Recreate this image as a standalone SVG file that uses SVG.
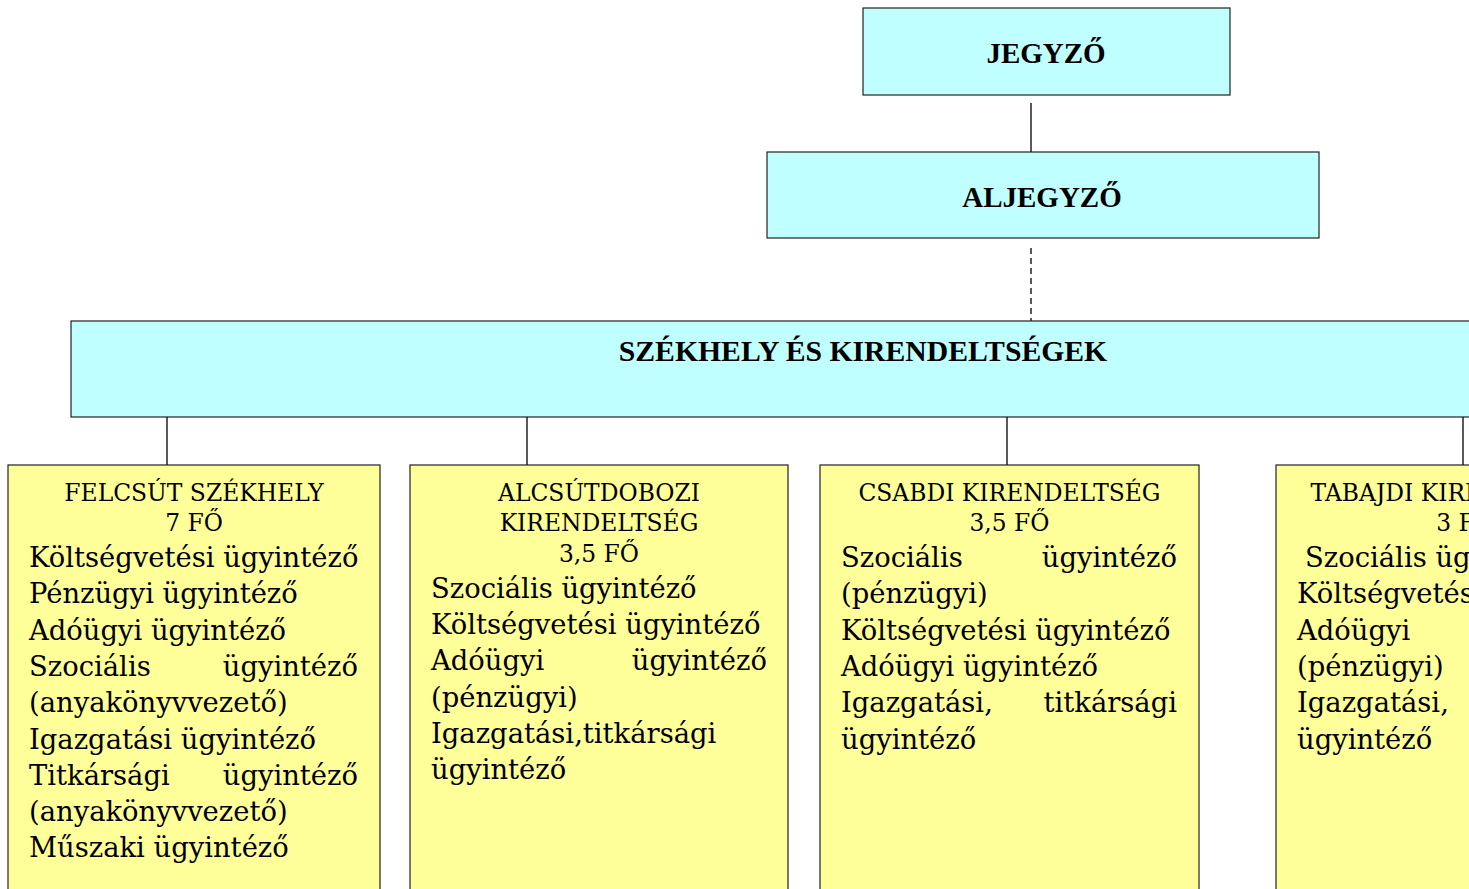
<svg xmlns="http://www.w3.org/2000/svg" width="1469" height="889" viewBox="0 0 1469 889">
<style>
.cyan{fill:#BFFFFF;stroke:#222;stroke-width:1.2}
.yel{fill:#FFFF99;stroke:#222;stroke-width:1.2}
.title{font-family:"Liberation Serif","Times New Roman",serif;font-weight:bold;fill:#000;text-anchor:middle}
.hd{font-family:"DejaVu Serif","Liberation Serif",serif;font-size:23.4px;fill:#000;text-anchor:middle}
.bd{font-family:"DejaVu Serif","Liberation Serif",serif;font-size:27.4px;fill:#000}
.r{text-anchor:end}
.ln{stroke:#000;stroke-width:1.3;fill:none}
</style>
<rect width="1469" height="889" fill="#fff"/>
<g id="connectors">
<line class="ln" x1="1031" y1="103" x2="1031" y2="152"/>
<line class="ln" x1="1031" y1="248" x2="1031" y2="321" stroke-dasharray="6,4"/>
<line class="ln" x1="167" y1="417" x2="167" y2="465"/>
<line class="ln" x1="527" y1="417" x2="527" y2="465"/>
<line class="ln" x1="1007" y1="417" x2="1007" y2="465"/>
<line class="ln" x1="1463" y1="417" x2="1463" y2="465"/>
</g>
<g id="jegyzo">
<rect class="cyan" x="863" y="8" width="367" height="87"/>
<text class="title" x="1046" y="63" font-size="29">JEGYZŐ</text>
</g>
<g id="aljegyzo">
<rect class="cyan" x="767" y="152" width="552" height="86"/>
<text class="title" x="1042" y="207" font-size="29">ALJEGYZŐ</text>
</g>
<g id="szekhely">
<rect class="cyan" x="71" y="321" width="1420" height="96" stroke-width="1.6"/>
<text class="title" x="863" y="361" font-size="29.7">SZÉKHELY ÉS KIRENDELTSÉGEK</text>
</g>
<g id="felcsut">
<rect class="yel" x="8" y="465" width="372" height="440"/>
<text class="hd" x="194" y="501">FELCSÚT SZÉKHELY</text>
<text class="hd" x="194" y="531">7 FŐ</text>
<text class="bd" x="29" y="567">Költségvetési ügyintéző</text>
<text class="bd" x="29" y="603.3">Pénzügyi ügyintéző</text>
<text class="bd" x="29" y="639.6">Adóügyi ügyintéző</text>
<text class="bd" x="29" y="675.9">Szociális</text>
<text class="bd r" x="358" y="675.9">ügyintéző</text>
<text class="bd" x="29" y="712.2">(anyakönyvvezető)</text>
<text class="bd" x="29" y="748.5">Igazgatási ügyintéző</text>
<text class="bd" x="29" y="784.8">Titkársági</text>
<text class="bd r" x="358" y="784.8">ügyintéző</text>
<text class="bd" x="29" y="821.1">(anyakönyvvezető)</text>
<text class="bd" x="29" y="857.4">Műszaki ügyintéző</text>
</g>
<g id="alcsutdoboz">
<rect class="yel" x="410" y="465" width="378" height="440"/>
<text class="hd" x="599" y="501">ALCSÚTDOBOZI</text>
<text class="hd" x="599" y="531">KIRENDELTSÉG</text>
<text class="hd" x="599" y="561.5">3,5 FŐ</text>
<text class="bd" x="431" y="597.7">Szociális ügyintéző</text>
<text class="bd" x="431" y="634">Költségvetési ügyintéző</text>
<text class="bd" x="431" y="670.3">Adóügyi</text>
<text class="bd r" x="767" y="670.3">ügyintéző</text>
<text class="bd" x="431" y="706.6">(pénzügyi)</text>
<text class="bd" x="431" y="742.9">Igazgatási,titkársági</text>
<text class="bd" x="431" y="779.2">ügyintéző</text>
</g>
<g id="csabdi">
<rect class="yel" x="820" y="465" width="379" height="440"/>
<text class="hd" x="1009.5" y="501">CSABDI KIRENDELTSÉG</text>
<text class="hd" x="1009.5" y="531">3,5 FŐ</text>
<text class="bd" x="841" y="567">Szociális</text>
<text class="bd r" x="1177" y="567">ügyintéző</text>
<text class="bd" x="841" y="603.3">(pénzügyi)</text>
<text class="bd" x="841" y="639.6">Költségvetési ügyintéző</text>
<text class="bd" x="841" y="675.9">Adóügyi ügyintéző</text>
<text class="bd" x="841" y="712.2">Igazgatási,</text>
<text class="bd r" x="1177" y="712.2">titkársági</text>
<text class="bd" x="841" y="748.5">ügyintéző</text>
</g>
<g id="tabajd">
<rect class="yel" x="1276" y="465" width="379" height="440"/>
<text class="hd" x="1465" y="501">TABAJDI KIRENDELTSÉG</text>
<text class="hd" x="1465" y="531">3 FŐ</text>
<text class="bd" x="1305" y="567">Szociális ügyintéző</text>
<text class="bd" x="1297" y="603.3">Költségvetési ügyintéző</text>
<text class="bd" x="1297" y="639.6">Adóügyi</text>
<text class="bd" x="1297" y="675.9">(pénzügyi)</text>
<text class="bd" x="1297" y="712.2">Igazgatási,</text>
<text class="bd" x="1297" y="748.5">ügyintéző</text>
</g>
</svg>
